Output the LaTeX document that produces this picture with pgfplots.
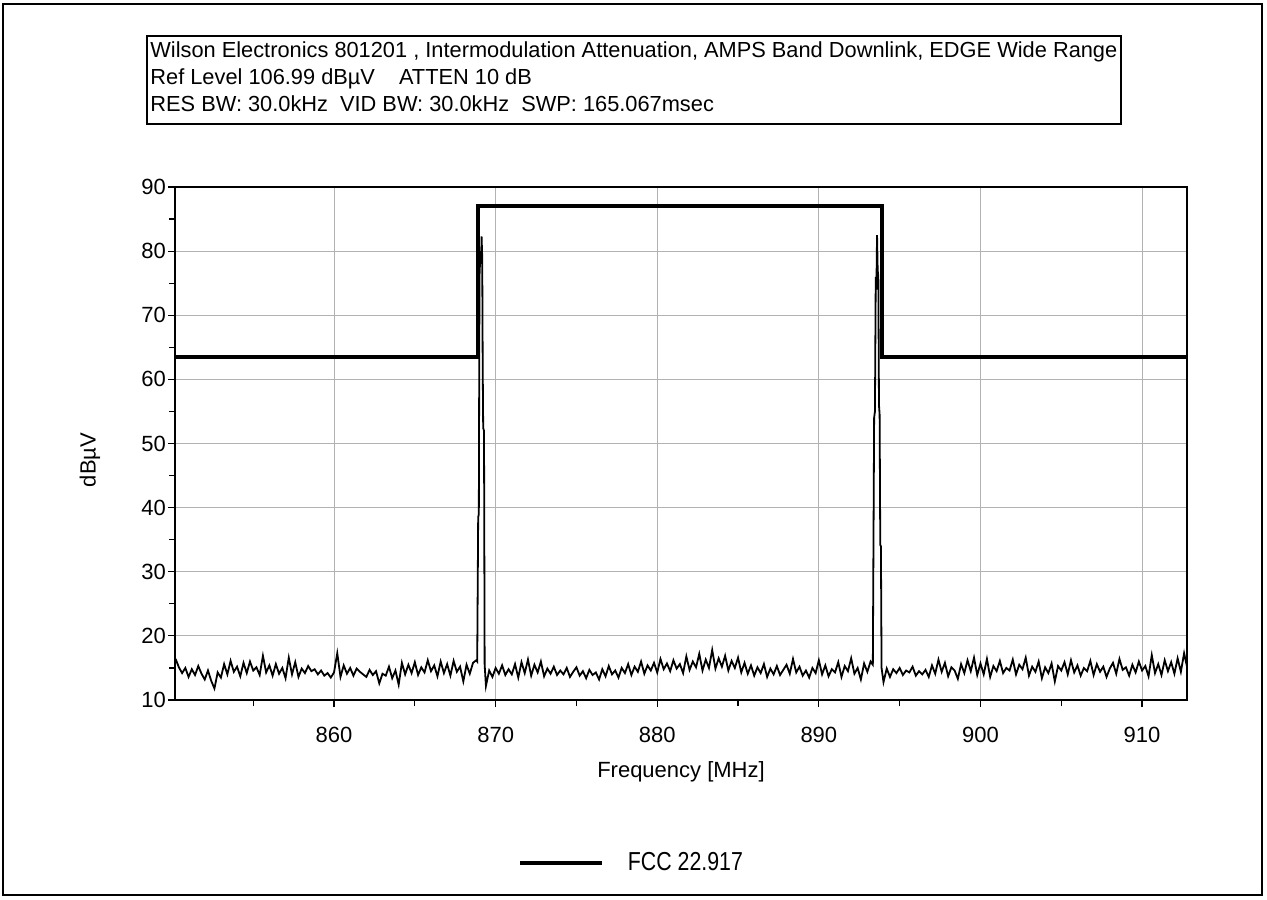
\documentclass[border=0pt]{standalone}
\usepackage{fontspec}
\setmainfont{Liberation Sans}
\newfontfamily\legfont[FakeStretch=0.82]{Liberation Sans}
\usepackage{pgfplots}
\pgfplotsset{compat=1.18}
\begin{document}
\begin{tikzpicture}
\useasboundingbox (0pt,0pt) rectangle (633.5pt,-449.5pt);
% outer frame and header box
\draw[line width=1pt] (1.5pt,-2pt) rectangle (631pt,-447.5pt);
\draw[line width=1pt] (73.5pt,-18pt) rectangle (560.5pt,-62pt);
\node[anchor=base west, inner sep=0, font=\fontsize{10.9}{12}\selectfont] at (75pt,-29pt) {Wilson Electronics 801201 , Intermodulation Attenuation, AMPS Band Downlink, EDGE Wide Range};
\node[anchor=base west, inner sep=0, font=\fontsize{10.9}{12}\selectfont] at (75pt,-42.5pt) {Ref Level 106.99 dBµV\hspace{12pt}ATTEN 10 dB};
\node[anchor=base west, inner sep=0, font=\fontsize{10.9}{12}\selectfont] at (75pt,-56pt) {RES BW: 30.0kHz\hspace{6pt}VID BW: 30.0kHz\hspace{6pt}SWP: 165.067msec};

\begin{axis}[
  at={(87.5pt,-350pt)}, anchor=south west,
  scale only axis, width=506pt, height=256.5pt,
  xmin=850.16, xmax=912.78,
  ymin=10, ymax=90,
  xtick={860,870,...,910},
  ytick={10,20,...,90},
  minor xtick={855,865,...,905},
  minor ytick={15,25,...,85},
  xtick pos=bottom, ytick pos=left,
  tick align=outside,
  major tick length=3.5pt, minor tick length=3pt,
  tick style={black, line width=0.6pt},
  axis line style={line width=1pt},
  grid=major,
  major grid style={black!30, line width=0.5pt},
  minor grid style={draw=none},
  ticklabel style={font=\fontsize{11}{13}\selectfont},
  /pgf/number format/assume math mode=true,
  xticklabel style={yshift=-6.5pt},
  yticklabel style={xshift=2.5pt},
  xlabel={Frequency [MHz]},
  ylabel={dBµV},
  label style={font=\fontsize{11}{13}\selectfont},
  xlabel style={at={(axis description cs:0.5,-0.1404)}, anchor=center},
  ylabel style={at={(axis description cs:-0.084,0.468)}, anchor=center, rotate=0},
  legend style={at={(axis description cs:0.452,-0.318)}, anchor=center, draw=none, fill=none,
    font=\legfont\fontsize{13}{15}\selectfont},
  legend image code/.code={\draw[line width=2pt] (0pt,0pt) -- (41pt,0pt);},
  legend cell align=left,
]
% FCC 22.917 mask
\addplot[black, line width=2pt, sharp plot] coordinates {
  (850.16,63.5) (868.9,63.5) (868.9,87) (893.9,87) (893.9,63.5) (912.78,63.5)
};
\addlegendentry{\hspace{10pt}FCC 22.917}
% measured trace
\addplot[black, line width=0.9pt, forget plot] coordinates {
(850.2,16.4)(850.4,15.1)(850.6,14.2)(850.8,15.0)(851.0,13.6)(851.2,14.8)(851.4,13.9)(851.6,15.3)(851.8,14.1)(852.0,13.2)
(852.2,14.6)(852.4,13.0)(852.6,11.8)(852.8,14.3)(853.0,13.5)(853.2,15.6)(853.4,14.0)(853.6,16.1)(853.8,14.4)(854.0,15.2)
(854.2,13.7)(854.4,15.8)(854.6,14.2)(854.8,16.0)(855.0,14.6)(855.2,15.1)(855.4,13.9)(855.6,16.9)(855.8,14.3)(856.0,15.4)
(856.2,13.8)(856.4,15.6)(856.6,14.1)(856.8,15.0)(857.0,13.4)(857.2,16.6)(857.4,14.0)(857.6,15.9)(857.8,13.6)(858.0,14.9)
(858.2,14.2)(858.4,15.3)(858.6,14.5)(858.8,14.8)(859.0,14.0)(859.2,14.6)(859.4,13.8)(859.6,14.2)(859.8,13.5)(860.0,14.3)
(860.2,17.3)(860.4,13.6)(860.6,15.4)(860.8,14.1)(861.0,15.0)(861.2,13.8)(861.4,14.9)(861.6,14.4)(861.8,14.0)(862.0,13.6)
(862.2,14.7)(862.4,13.9)(862.6,14.5)(862.8,12.6)(863.0,14.1)(863.2,13.8)(863.4,15.2)(863.6,13.4)(863.8,14.6)(864.0,12.4)
(864.2,15.8)(864.4,14.0)(864.6,15.5)(864.8,14.2)(865.0,15.9)(865.2,13.9)(865.4,15.1)(865.6,14.3)(865.8,16.2)(866.0,14.5)
(866.2,15.4)(866.4,13.7)(866.6,16.0)(866.8,14.2)(867.0,15.6)(867.2,13.8)(867.4,16.1)(867.6,14.4)(867.8,15.2)(868.0,12.9)
(868.2,15.5)(868.4,14.1)(868.6,15.8)(868.8,16.2)
(868.86,16.0)(868.92,38.5)(868.96,39)(869.0,76)(869.06,80)(869.1,78)(869.13,82.3)(869.17,79)(869.2,62)(869.23,52.4)(869.28,52)(869.32,15.5)(869.4,12.2)
(869.6,14.6)(869.8,13.6)(870.0,15.0)(870.2,14.1)(870.4,15.4)(870.6,13.9)(870.8,14.8)(871.0,14.0)(871.2,15.6)(871.4,13.5)
(871.6,15.9)(871.8,14.2)(872.0,16.3)(872.2,13.8)(872.4,15.5)(872.6,14.3)(872.8,16.0)(873.0,13.7)(873.2,14.9)(873.4,14.1)
(873.6,15.2)(873.8,13.9)(874.0,14.6)(874.2,14.0)(874.4,15.0)(874.6,13.6)(874.8,14.4)(875.0,15.1)(875.2,13.8)(875.4,14.5)
(875.6,13.4)(875.8,14.7)(876.0,13.9)(876.2,14.3)(876.4,13.2)(876.6,14.8)(876.8,13.7)(877.0,15.3)(877.2,14.0)(877.4,14.6)
(877.6,13.5)(877.8,15.0)(878.0,14.2)(878.2,15.6)(878.4,13.9)(878.6,15.2)(878.8,14.4)(879.0,16.0)(879.2,14.1)(879.4,15.4)
(879.6,14.6)(879.8,15.8)(880.0,14.3)(880.2,16.4)(880.4,14.8)(880.6,15.7)(880.8,14.5)(881.0,16.2)(881.2,14.9)(881.4,15.6)
(881.6,14.2)(881.8,16.8)(882.0,14.7)(882.2,16.0)(882.4,15.1)(882.6,17.2)(882.8,14.6)(883.0,16.3)(883.2,15.0)(883.4,17.8)
(883.6,14.9)(883.8,16.5)(884.0,15.2)(884.2,16.9)(884.4,14.6)(884.6,16.1)(884.8,15.0)(885.0,16.6)(885.2,14.3)(885.4,15.8)
(885.6,14.1)(885.8,15.4)(886.0,13.8)(886.2,15.1)(886.4,14.2)(886.6,15.6)(886.8,13.6)(887.0,14.9)(887.2,14.0)(887.4,15.3)
(887.6,13.9)(887.8,14.7)(888.0,15.5)(888.2,14.1)(888.4,16.4)(888.6,14.3)(888.8,15.2)(889.0,13.8)(889.2,14.6)(889.4,13.5)
(889.6,15.0)(889.8,14.2)(890.0,16.2)(890.2,14.0)(890.4,15.4)(890.6,13.7)(890.8,14.8)(891.0,14.3)(891.2,15.9)(891.4,13.6)
(891.6,15.3)(891.8,14.5)(892.0,16.5)(892.2,14.1)(892.4,15.0)(892.6,13.2)(892.8,15.7)(893.0,14.4)(893.2,16.0)
(893.34,15.5)(893.42,54)(893.47,55)(893.52,76)(893.56,74)(893.6,82.5)(893.64,77)(893.68,76)(893.72,56)(893.76,54.5)(893.8,34.2)(893.84,34)(893.88,15.0)(894.0,12.8)
(894.2,14.9)(894.4,13.6)(894.6,14.8)(894.8,14.2)(895.0,15.0)(895.2,13.9)(895.4,14.6)(895.6,14.3)(895.8,15.2)(896.0,13.8)
(896.2,14.5)(896.4,14.0)(896.6,14.7)(896.8,13.6)(897.0,15.4)(897.2,14.1)(897.4,16.3)(897.6,14.4)(897.8,15.8)(898.0,13.7)
(898.2,15.1)(898.4,14.6)(898.6,13.3)(898.8,15.6)(899.0,14.2)(899.2,16.2)(899.4,14.5)(899.6,16.6)(899.8,13.9)(900.0,15.7)
(900.2,14.0)(900.4,16.4)(900.6,13.6)(900.8,15.3)(901.0,14.5)(901.2,16.1)(901.4,14.2)(901.6,15.0)(901.8,14.6)(902.0,16.3)
(902.2,14.0)(902.4,15.5)(902.6,14.8)(902.8,16.6)(903.0,13.8)(903.2,15.2)(903.4,14.4)(903.6,16.0)(903.8,13.4)(904.0,15.1)
(904.2,14.2)(904.4,15.7)(904.6,12.9)(904.8,15.3)(905.0,14.6)(905.2,15.9)(905.4,14.0)(905.6,16.2)(905.8,14.3)(906.0,15.4)
(906.2,13.8)(906.4,15.0)(906.6,14.5)(906.8,16.1)(907.0,13.9)(907.2,15.6)(907.4,14.4)(907.6,15.2)(907.8,13.6)(908.0,14.9)
(908.2,15.8)(908.4,14.1)(908.6,16.4)(908.8,14.7)(909.0,15.1)(909.2,13.8)(909.4,15.5)(909.6,14.3)(909.8,16.0)(910.0,14.6)
(910.2,15.3)(910.4,13.7)(910.6,17.0)(910.8,14.2)(911.0,15.6)(911.2,13.9)(911.4,16.2)(911.6,14.5)(911.8,15.9)(912.0,14.1)
(912.2,16.5)(912.4,14.4)(912.6,17.3)(912.78,15.2)
};
\end{axis}
\end{tikzpicture}
\end{document}
